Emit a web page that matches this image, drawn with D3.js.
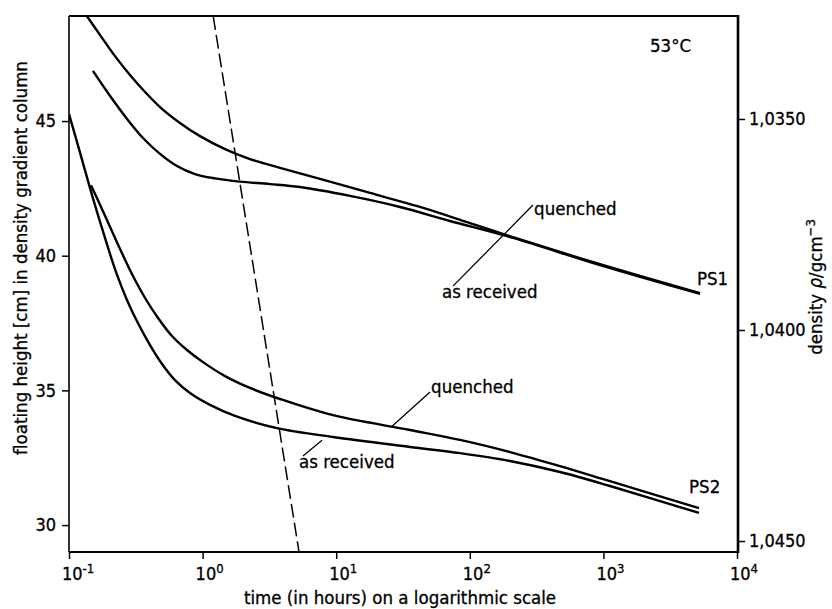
<!DOCTYPE html>
<html>
<head>
<meta charset="utf-8">
<style>
  body { margin: 0; background: #fff; }
  svg { display: block; }
  text {
    font-family: "DejaVu Sans Condensed", "Liberation Sans Narrow", "DejaVu Sans", sans-serif;
    font-size: 18.5px;
    fill: #000;
    stroke: #000;
    stroke-width: 0.3px;
  }
  .tick text, .pow { font-size: 18px; }
</style>
</head>
<body>
<svg width="832" height="609"></svg>

<script src="https://d3js.org/d3.v7.min.js"></script>
<script>
    // [time in hours, floating height in cm]
    let ps1Quenched = [[0.136, 48.90], [0.171, 48.19], [0.221, 47.41], [0.286, 46.71], [0.371, 46.08],
        [0.480, 45.52], [0.677, 44.93], [0.956, 44.44], [1.472, 43.96], [2.263, 43.59], [3.795, 43.26],
        [7.562, 42.85], [17.91, 42.33], [42.39, 41.81], [100.3, 41.21], [210.5, 40.69], [943, 39.69],
        [5285, 38.61]];
    let ps1Received = [[0.151, 46.86], [0.203, 45.93], [0.272, 45.08], [0.358, 44.37], [0.480, 43.78],
        [0.643, 43.33], [0.877, 43.03], [1.238, 42.87], [1.905, 42.75], [3.194, 42.66], [5.358, 42.55],
        [12.69, 42.22], [30.03, 41.81], [71.1, 41.29], [210.5, 40.66], [943, 39.65], [5285, 38.58]];
    let ps2Quenched = [[0.146, 42.62], [0.171, 41.88], [0.203, 41.07], [0.241, 40.25], [0.296, 39.32],
        [0.371, 38.43], [0.464, 37.69], [0.590, 37.02], [0.764, 36.50], [1.007, 36.05], [1.472, 35.53],
        [2.263, 35.09], [3.795, 34.68], [9.462, 34.08], [35.67, 33.53], [84.5, 33.16], [199.9, 32.71],
        [473, 32.19], [1120, 31.63], [5194, 30.63]];
    let ps2Received = [[0.1, 45.26], [0.123, 43.70], [0.151, 42.14], [0.186, 40.66], [0.225, 39.39],
        [0.272, 38.35], [0.328, 37.50], [0.404, 36.68], [0.497, 35.98], [0.621, 35.38], [0.805, 34.90],
        [1.136, 34.46], [1.748, 34.05], [3.605, 33.60], [9.462, 33.27], [35.67, 32.90], [84.5, 32.67],
        [199.9, 32.38], [473, 31.97], [1120, 31.45], [5194, 30.45]];
    let dashedLine = [[1.2, 48.9], [5.27, 29.0]];

    let xTicks = [0.1, 1, 10, 100, 1000, 10000];
    let xExponents = ["-1", "0", "1", "2", "3", "4"];
    let heightTicks = [30, 35, 40, 45];
    let densityTicks = [1.035, 1.040, 1.045];

    // annotations: [time, height]
    let notes = [
        { text: "53°C", at: [2234, 47.56] },
        { text: "quenched", at: [303, 41.51] },
        { text: "as received", at: [61.9, 38.43] },
        { text: "PS1", at: [5020, 38.91] },
        { text: "quenched", at: [51.3, 34.90] },
        { text: "as received", at: [5.27, 32.11] },
        { text: "PS2", at: [4375, 31.19] }
    ];
    let leaders = [
        [[74.8, 38.87], [297, 41.88]],
        [[26.2, 33.67], [50.4, 34.94]],
        [[5.64, 32.56], [7.83, 33.15]]
    ];

    let svg = d3.select("svg");
    let mLeft = 69, mRight = 738, mTop = 16, mBottom = 552;

    let x = d3.scaleLog().domain([0.1, 10000]).range([mLeft, mRight - 1]);
    let y = d3.scaleLinear().domain([29.0, 48.9]).range([mBottom, mTop]);
    let yDensity = d3.scaleLinear().domain([1.03256, 1.04526]).range([mTop, mBottom]);

    let line = d3.line()
        .x(d => x(d[0]))
        .y(d => y(d[1]))
        .curve(d3.curveCatmullRom.alpha(0.5));

    svg.append("clipPath").attr("id", "plot")
        .append("rect")
        .attr("x", mLeft).attr("y", mTop)
        .attr("width", mRight - mLeft).attr("height", mBottom - mTop);

    let plot = svg.append("g").attr("clip-path", "url(#plot)");

    plot.selectAll(".curve")
        .data([ps1Quenched, ps1Received, ps2Quenched, ps2Received])
        .join("path")
        .attr("class", "curve")
        .attr("d", line)
        .attr("fill", "none")
        .attr("stroke", "#000")
        .attr("stroke-width", 2.4);

    plot.append("path")
        .attr("d", d3.line().x(d => x(d[0])).y(d => y(d[1]))(dashedLine))
        .attr("fill", "none")
        .attr("stroke", "#000")
        .attr("stroke-width", 1.5)
        .attr("stroke-dasharray", "14,5");

    // leader lines
    svg.selectAll(".leader")
        .data(leaders)
        .join("line")
        .attr("class", "leader")
        .attr("x1", d => x(d[0][0])).attr("y1", d => y(d[0][1]))
        .attr("x2", d => x(d[1][0])).attr("y2", d => y(d[1][1]))
        .attr("stroke", "#000")
        .attr("stroke-width", 1.3);

    svg.selectAll(".note")
        .data(notes)
        .join("text")
        .attr("class", "note")
        .attr("x", d => x(d.at[0]))
        .attr("y", d => y(d.at[1]))
        .text(d => d.text);

    // frame
    svg.append("line").attr("x1", mLeft).attr("x2", mRight).attr("y1", mTop).attr("y2", mTop)
        .attr("stroke", "#000").attr("stroke-width", 2);
    svg.append("line").attr("x1", mLeft).attr("x2", mLeft).attr("y1", mTop).attr("y2", mBottom)
        .attr("stroke", "#000").attr("stroke-width", 1.6);
    svg.append("line").attr("x1", mLeft).attr("x2", mRight + 1).attr("y1", mBottom).attr("y2", mBottom)
        .attr("stroke", "#000").attr("stroke-width", 2.2);
    svg.append("line").attr("x1", mRight).attr("x2", mRight).attr("y1", mTop - 1).attr("y2", mBottom + 1)
        .attr("stroke", "#000").attr("stroke-width", 2.6);

    // left axis
    let leftAxis = svg.append("g")
        .attr("transform", `translate(${mLeft},0)`)
        .call(d3.axisLeft(y).tickValues(heightTicks).tickSize(7).tickPadding(6));
    leftAxis.select(".domain").remove();

    // right axis
    let rightAxis = svg.append("g")
        .attr("transform", `translate(${mRight},0)`)
        .call(d3.axisRight(yDensity).tickValues(densityTicks).tickSize(7).tickPadding(4)
            .tickFormat(d => d3.format(".4f")(d).replace(".", ",")));
    rightAxis.select(".domain").remove();

    // bottom axis, labels as powers of ten
    let bottomAxis = svg.append("g")
        .attr("transform", `translate(0,${mBottom})`)
        .call(d3.axisBottom(x).tickValues(xTicks).tickSize(7).tickFormat(""));
    bottomAxis.select(".domain").remove();
    svg.selectAll(".tick line").attr("stroke-width", 1.5);

    let powLabels = svg.selectAll(".pow")
        .data(xTicks)
        .join("text")
        .attr("class", "pow")
        .attr("x", d => x(d) - 7)
        .attr("y", 580);
    powLabels.append("tspan").text("10");
    powLabels.append("tspan")
        .attr("dy", -7)
        .style("font-size", "13px")
        .text((d, i) => xExponents[i]);

    // axis titles
    svg.append("text")
        .attr("transform", "translate(27,258) rotate(-90)")
        .attr("text-anchor", "middle")
        .text("floating height [cm] in density gradient column");

    svg.append("text")
        .attr("x", 400)
        .attr("y", 604)
        .attr("text-anchor", "middle")
        .text("time (in hours) on a logarithmic scale");

    let densityTitle = svg.append("text")
        .attr("transform", "translate(822,287) rotate(-90)")
        .attr("text-anchor", "middle");
    densityTitle.append("tspan").text("density ");
    densityTitle.append("tspan").style("font-style", "italic").text("ρ");
    densityTitle.append("tspan").text("/gcm");
    densityTitle.append("tspan").attr("dy", -7).style("font-size", "13px").text("−3");
</script>
</body>
</html>
